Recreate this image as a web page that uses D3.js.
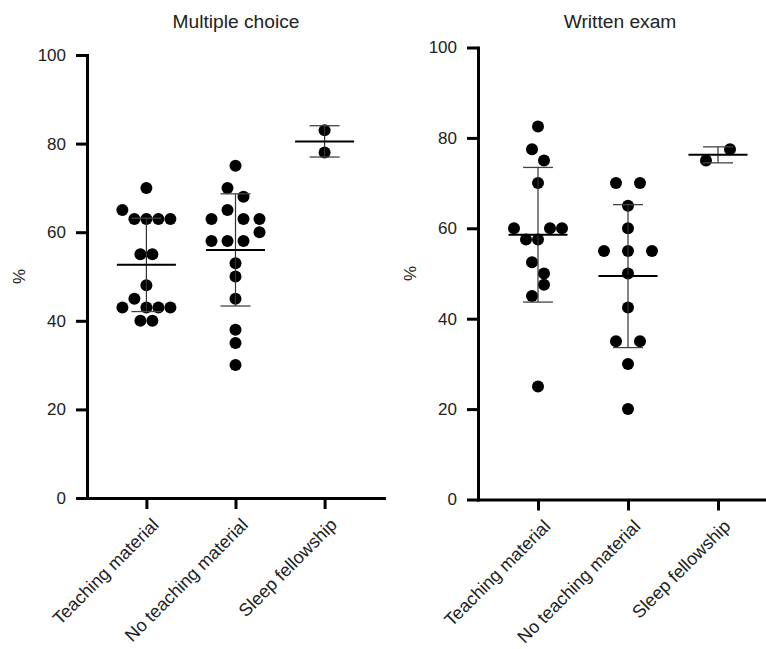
<!DOCTYPE html>
<html><head><meta charset="utf-8">
<script src="https://cdn.jsdelivr.net/npm/d3@7"></script>
<style>
body{margin:0;background:#fff}
text{font-family:"Liberation Sans",Arial,Helvetica,sans-serif;fill:#222}
</style>
</head><body>
<svg id="chart" width="766" height="649"></svg>
<script>
// ---- data ----
const categories = ["Teaching material", "No teaching material", "Sleep fellowship"];
const yTicks = [0, 20, 40, 60, 80, 100];
const panelTitles = ["Multiple choice", "Written exam"];
const yLabel = "%";

// Multiple choice scores (%)
const mcTeaching   = [70, 65, 63, 63, 63, 63, 55, 55, 48, 43, 45, 43, 43, 43, 40, 40];
const mcNoTeaching = [75, 70, 68, 63, 65, 63, 63, 58, 58, 58, 60, 53, 50, 45, 38, 35, 30];
const mcSleep      = [83, 78];

// Written exam scores (%)
const weTeaching   = [82.5, 77.5, 75, 70, 60, 57.5, 57.5, 60, 60, 52.5, 50, 45, 47.5, 25];
const weNoTeaching = [70, 70, 65, 60, 55, 55, 55, 50, 42.5, 35, 35, 30, 20];
const weSleep      = [75, 77.5];

// ---- layout ----
const panels = [
  {title: panelTitles[0], series: [mcTeaching, mcNoTeaching, mcSleep],
   x0: 87, x1: 384, yTop: 55, yBot: 498, titleX: 236, labelX: 19},
  {title: panelTitles[1], series: [weTeaching, weNoTeaching, weSleep],
   x0: 478, x1: 778, yTop: 47.5, yBot: 499.5, titleX: 620, labelX: 410}
];
const R = 6, DIAM = 12, SPREAD = 48, MAXSTEP = 24;

const svg = d3.select("#chart");

panels.forEach(p => {
  const y = d3.scaleLinear().domain([0, 100]).range([p.yBot, p.yTop]);
  const x = d3.scalePoint().domain(categories).range([p.x0, p.x1]).padding(2/3);
  const g = svg.append("g");

  // title
  g.append("text").attr("x", p.titleX).attr("y", 28)
    .attr("text-anchor", "middle").style("font-size", "19.2px").text(p.title);

  // y label
  g.append("text")
    .attr("transform", `translate(${p.labelX},${(p.yTop + p.yBot) / 2}) rotate(-90)`)
    .attr("text-anchor", "middle").attr("dy", "0.35em")
    .style("font-size", "17px").text(yLabel);

  // points, bars
  p.series.forEach((vals, ci) => {
    const cx = x(categories[ci]);
    // beeswarm rows: group values whose pixel distance is under one dot diameter
    const idx = vals.map((v, i) => i).sort((a, b) => vals[a] - vals[b] || a - b);
    const groups = [];
    idx.forEach(i => {
      const last = groups[groups.length - 1];
      if (last && Math.abs(y(vals[last[0]]) - y(vals[i])) < DIAM) last.push(i);
      else groups.push([i]);
    });
    const nmax = d3.max(groups, gr => gr.length);
    const step = nmax > 1 ? Math.min(SPREAD / (nmax - 1), MAXSTEP) : 0;
    const pts = [];
    groups.forEach(gr => {
      const mem = gr.slice().sort((a, b) => a - b);
      mem.forEach((i, k) => pts.push({v: vals[i], dx: (k - (mem.length - 1) / 2) * step}));
    });

    g.selectAll(null).data(pts).enter().append("circle")
      .attr("cx", d => cx + d.dx).attr("cy", d => y(d.v)).attr("r", R).attr("fill", "#000");

    const m = d3.mean(vals), sd = d3.deviation(vals);
    const lo = m - sd, hi = m + sd;
    g.append("line").attr("x1", cx).attr("x2", cx).attr("y1", y(lo)).attr("y2", y(hi))
      .attr("stroke", "#333").attr("stroke-width", 1.2);
    [lo, hi].forEach(v => g.append("line").attr("x1", cx - 15).attr("x2", cx + 15)
      .attr("y1", y(v)).attr("y2", y(v)).attr("stroke", "#444").attr("stroke-width", 1.3));
    g.append("line").attr("x1", cx - 29.5).attr("x2", cx + 29.5)
      .attr("y1", y(m)).attr("y2", y(m)).attr("stroke", "#000").attr("stroke-width", 2);
  });

  // y axis
  const ya = g.append("g").attr("transform", `translate(${p.x0},0)`)
    .call(d3.axisLeft(y).tickValues(yTicks).tickSize(11).tickSizeOuter(0).tickPadding(10));
  ya.selectAll("text").style("font-size", "17px").attr("fill", "#222");

  // x axis
  const xa = g.append("g").attr("transform", `translate(0,${p.yBot})`)
    .call(d3.axisBottom(x).tickSize(11).tickSizeOuter(0));
  xa.selectAll("text").remove();
  xa.selectAll(".tick").append("text")
    .attr("transform", "translate(13,28) rotate(-45)")
    .attr("text-anchor", "end").attr("fill", "#222")
    .style("font-size", "18px").text(d => d);

  [ya, xa].forEach(a => {
    a.select(".domain").attr("stroke", "#000").attr("stroke-width", 3).attr("stroke-linecap", "square");
    a.selectAll(".tick line").attr("stroke", "#000").attr("stroke-width", 3);
  });
});
</script>
</body></html>
